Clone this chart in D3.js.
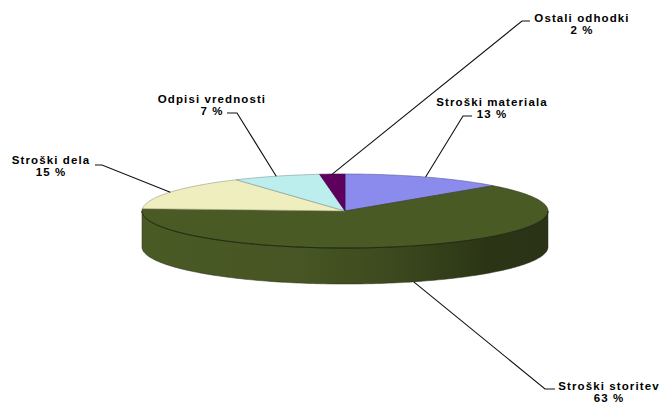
<!DOCTYPE html>
<html>
<head>
<meta charset="utf-8">
<script src="https://cdn.jsdelivr.net/npm/d3@7"></script>
<style>
html,body{margin:0;padding:0;background:#fff;}
svg{display:block;}
text{font-family:"Liberation Sans",Arial,sans-serif;font-weight:bold;font-size:11.5px;letter-spacing:1.1px;fill:#000;}
</style>
</head>
<body>
<svg id="chart" width="662" height="404"></svg>
<script>
// ---- data ----
const categories = ["Stroški materiala", "Stroški storitev", "Stroški dela", "Odpisi vrednosti", "Ostali odhodki"];
const values = [13, 63, 15, 7, 2];
const valueLabels = ["13 %", "63 %", "15 %", "7 %", "2 %"];
const colors = ["#8B8BEE", "#4A5A25", "#EEEEBF", "#BDEEEE", "#5E005E"];

// ---- layout ----
const cx = 345, cy = 211, rx = 203, ry = 37, depth = 36;
const svg = d3.select("#chart");

const pie = d3.pie().sort(null).value(d => d)(values);
const px = a => cx + rx * Math.sin(a);
const py = a => cy - ry * Math.cos(a);

function arcPts(a0, a1, dy) {
  const n = Math.max(2, Math.ceil((a1 - a0) / 0.02));
  const pts = [];
  for (let i = 0; i <= n; i++) {
    const a = a0 + (a1 - a0) * i / n;
    pts.push([px(a), py(a) + dy]);
  }
  return pts;
}
const line = d3.line();

const defs = svg.append("defs");
pie.forEach((p, i) => {
  const c = d3.color(colors[i]);
  const g = defs.append("linearGradient").attr("id", "side" + i)
    .attr("gradientUnits", "userSpaceOnUse")
    .attr("x1", cx - rx).attr("x2", cx + rx).attr("y1", 0).attr("y2", 0);
  g.append("stop").attr("offset", "0%").attr("stop-color", c.darker(0.0));
  g.append("stop").attr("offset", "40%").attr("stop-color", c.darker(0.15));
  g.append("stop").attr("offset", "62%").attr("stop-color", c.darker(0.6));
  g.append("stop").attr("offset", "85%").attr("stop-color", c.darker(1.5));
  g.append("stop").attr("offset", "100%").attr("stop-color", c.darker(1.6));
});

const frontA = Math.PI / 2, frontB = 3 * Math.PI / 2;
pie.forEach((p, i) => {
  const a0 = Math.max(p.startAngle, frontA), a1 = Math.min(p.endAngle, frontB);
  if (a1 <= a0) return;
  const top = arcPts(a0, a1, 0);
  const bot = arcPts(a0, a1, depth).reverse();
  svg.append("path")
    .attr("d", line(top.concat(bot)) + "Z")
    .attr("fill", `url(#side${i})`)
    .attr("stroke", "#2a2f1c").attr("stroke-width", 0.5);
});

pie.forEach((p, i) => {
  const pts = [[cx, cy]].concat(arcPts(p.startAngle, p.endAngle, 0));
  svg.append("path")
    .attr("d", line(pts) + "Z")
    .attr("fill", colors[i])
    .attr("stroke", d3.color(colors[i]).darker(1.2)).attr("stroke-width", 0.6)
    .attr("stroke-linejoin", "round");
});
svg.append("path")
  .attr("d", line(arcPts(frontA, frontB, 0)))
  .attr("fill", "none").attr("stroke", "#1c2210").attr("stroke-width", 0.8);

const labelPos = [
  {x: 492, y: 106, stub: [[472, 116], [463, 116]], side: false},
  {x: 609, y: 390, stub: [[555, 389], [545, 389]], side: true},
  {x: 51, y: 164, stub: [[95, 165], [102, 165]], side: false},
  {x: 212, y: 103, stub: [[227, 113], [237, 113]], side: false},
  {x: 582, y: 22, stub: [[530, 21], [522, 21]], side: false}
];
pie.forEach((p, i) => {
  const L = labelPos[i];
  const mid = (p.startAngle + p.endAngle) / 2;
  const ax = px(mid), ay = py(mid) + (L.side ? depth : 0);
  const pts = [L.stub[0], L.stub[1], [ax, ay]];
  svg.append("path").attr("d", line(pts)).attr("fill", "none")
    .attr("stroke", "#111").attr("stroke-width", 1.1);
  const t = svg.append("text").attr("text-anchor", "middle");
  t.append("tspan").attr("x", L.x).attr("y", L.y).text(categories[i]);
  t.append("tspan").attr("x", L.x).attr("y", L.y + 12).text(valueLabels[i]);
});
</script>
</body>
</html>
